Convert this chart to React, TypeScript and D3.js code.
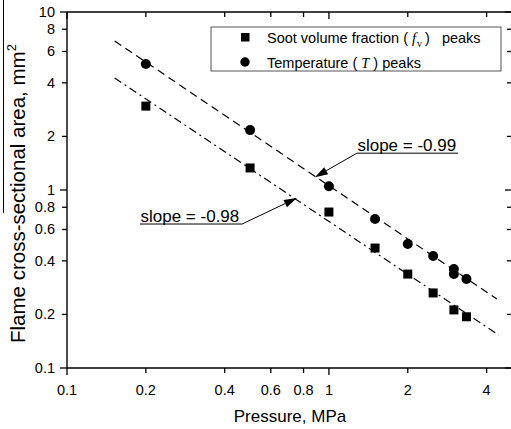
import React from "react";
import * as d3 from "d3";

// ---- data ----
const sootP = [0.2, 0.5, 1.0, 1.5, 2.0, 2.5, 3.0, 3.35];
const sootA = [2.96, 1.33, 0.752, 0.472, 0.337, 0.264, 0.212, 0.194];
const tempP = [0.2, 0.5, 1.0, 1.5, 2.0, 2.5, 3.0, 3.0, 3.35];
const tempA = [5.1, 2.17, 1.05, 0.687, 0.497, 0.426, 0.36, 0.337, 0.316];
// fitted lines (endpoints)
const fitTempP = [0.152, 4.38];
const fitTempA = [6.87, 0.244];
const fitSootP = [0.152, 4.45];
const fitSootA = [4.26, 0.153];
const xTicks = [0.1, 0.2, 0.4, 0.6, 0.8, 1, 2, 4];
const yTicks = [0.1, 0.2, 0.4, 0.6, 0.8, 1, 2, 4, 6, 8, 10];
const xTickLabels = ["0.1", "0.2", "0.4", "0.6", "0.8", "1", "2", "4"];
const yTickLabels = ["0.1", "0.2", "0.4", "0.6", "0.8", "1", "2", "4", "6", "8", "10"];
// annotations in data coords
const ann1 = { text: "slope = -0.99", p0: 1.279, p1: 3.11, a: 1.61, tipP: 0.884, tipA: 1.18, from: "left" };
const ann2 = { text: "slope = -0.98", p0: 0.19, p1: 0.466, a: 0.644, tipP: 0.755, tipA: 0.902, from: "right" };

const W = 511, H = 429;
const FONT = "'Liberation Sans', Arial, sans-serif";
const SERIF = "'Liberation Serif', 'Times New Roman', serif";

export default function App() {
  const x = d3.scaleLog().domain([0.1, 5]).range([67, 512]);
  const y = d3.scaleLog().domain([0.1, 10]).range([368, 12]);
  const x0 = x.range()[0], x1 = x.range()[1];
  const y0 = y.range()[0], y1 = y.range()[1];
  const isDecade = (v: number) => Math.abs(Math.log10(v) - Math.round(Math.log10(v))) < 1e-9;
  const line = d3.line<[number, number]>().x(d => x(d[0])).y(d => y(d[1]));
  const tempLine = line(fitTempP.map((p, i) => [p, fitTempA[i]] as [number, number]));
  const sootLine = line(fitSootP.map((p, i) => [p, fitSootA[i]] as [number, number]));

  const arrow = (a: typeof ann1) => {
    const lx0 = x(a.p0), lx1 = x(a.p1), ly = y(a.a);
    const sx = a.from === "left" ? lx0 : lx1;
    const tx = x(a.tipP), ty = y(a.tipA);
    const ang = Math.atan2(ty - ly, tx - sx);
    const L = 13, Wd = 4;
    const bx = tx - L * Math.cos(ang), by = ty - L * Math.sin(ang);
    const px = -Math.sin(ang) * Wd, py = Math.cos(ang) * Wd;
    return (
      <g>
        <text x={lx0 + 0.5} y={ly - 2} fontSize={17} fontFamily={FONT}>{a.text}</text>
        <line x1={lx0} x2={lx1} y1={ly} y2={ly} stroke="#000" strokeWidth={1} />
        <line x1={sx} y1={ly} x2={bx} y2={by} stroke="#000" strokeWidth={1} />
        <polygon points={`${tx},${ty} ${bx + px},${by + py} ${bx - px},${by - py}`} fill="#000" />
      </g>
    );
  };

  return (
    <svg width={W} height={H} style={{ position: "absolute", left: 0, top: 0, background: "#fff" }}>
      {/* odd vertical bar at far left */}
      <line x1={3.5} x2={3.5} y1={0} y2={213} stroke="#000" strokeWidth={1} />
      {/* frame */}
      <line x1={x0} x2={x1} y1={y0} y2={y0} stroke="#000" strokeWidth={1.4} />
      <line x1={x0} x2={x1} y1={y1} y2={y1} stroke="#000" strokeWidth={1.4} />
      <line x1={x0} x2={x0} y1={y0} y2={y1} stroke="#000" strokeWidth={1.4} />
      <line x1={x1} x2={x1} y1={y0} y2={y1} stroke="#000" strokeWidth={1.4} />
      {/* x ticks */}
      {xTicks.map((v, i) => {
        const len = isDecade(v) ? 7 : 5;
        return (
          <g key={"xt" + i}>
            <line x1={x(v)} x2={x(v)} y1={y0} y2={y0 + len} stroke="#000" strokeWidth={1.3} />
            <line x1={x(v)} x2={x(v)} y1={y1} y2={y1 + len} stroke="#000" strokeWidth={1.3} />
            <text x={x(v)} y={y0 + 27} textAnchor="middle" fontSize={14.5} fontFamily={FONT}>{xTickLabels[i]}</text>
          </g>
        );
      })}
      {/* y ticks */}
      {yTicks.map((v, i) => {
        const len = isDecade(v) ? 7 : 5;
        return (
          <g key={"yt" + i}>
            <line x1={x0} x2={x0 - len} y1={y(v)} y2={y(v)} stroke="#000" strokeWidth={1.3} />
            <line x1={x1} x2={x1 - len} y1={y(v)} y2={y(v)} stroke="#000" strokeWidth={1.3} />
            <text x={55} y={y(v) + 5} textAnchor="end" fontSize={14.5} fontFamily={FONT}>{yTickLabels[i]}</text>
          </g>
        );
      })}
      {/* axis titles */}
      <text x={290} y={422} textAnchor="middle" fontSize={17} fontFamily={FONT}>Pressure, MPa</text>
      <text transform="translate(25,343) rotate(-90)" fontSize={20.5} fontFamily={FONT}>
        Flame cross-sectional area, mm<tspan dy={-9} fontSize={13}>2</tspan>
      </text>
      {/* fit lines */}
      <path d={tempLine || ""} fill="none" stroke="#000" strokeWidth={1.2} strokeDasharray="8,5" />
      <path d={sootLine || ""} fill="none" stroke="#000" strokeWidth={1.2} strokeDasharray="8,4,2,4" />
      {/* markers */}
      {sootP.map((p, i) => (
        <rect key={"s" + i} x={x(p) - 4.5} y={y(sootA[i]) - 4.5} width={9} height={9} fill="#000" />
      ))}
      {tempP.map((p, i) => (
        <circle key={"c" + i} cx={x(p)} cy={y(tempA[i])} r={5} fill="#000" />
      ))}
      {/* annotations */}
      {arrow(ann1)}
      {arrow(ann2)}
      {/* legend */}
      <rect x={211} y={27} width={290} height={44} fill="#fff" stroke="#555" strokeWidth={1} />
      <rect x={241} y={33} width={8.5} height={8.5} fill="#000" />
      <circle cx={245} cy={62} r={4.7} fill="#000" />
      <text x={267} y={43} fontSize={14.5} fontFamily={FONT} style={{ whiteSpace: "pre" }}>
        <tspan>Soot volume fraction (</tspan>
        <tspan fontFamily={SERIF} fontStyle="italic" dx={4}>f</tspan>
        <tspan fontFamily={SERIF} fontSize={10} dy={4} dx={1}>v</tspan>
        <tspan dy={-4} dx={3}>)</tspan>
        <tspan dx={12}>peaks</tspan>
      </text>
      <text x={267} y={68} fontSize={14.5} fontFamily={FONT} style={{ whiteSpace: "pre" }}>
        <tspan>Temperature (</tspan>
        <tspan fontFamily={SERIF} fontStyle="italic" dx={4}>T</tspan>
        <tspan dx={4}>)</tspan>
        <tspan dx={4}>peaks</tspan>
      </text>
    </svg>
  );
}
